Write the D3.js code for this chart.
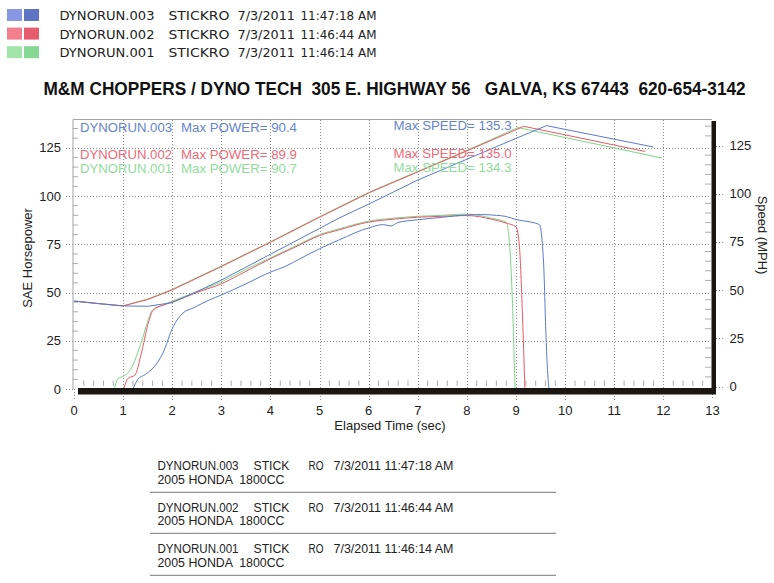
<!DOCTYPE html>
<html><head><meta charset="utf-8">
<script src="https://cdn.jsdelivr.net/npm/d3@7/dist/d3.min.js"></script>
<style>body{margin:0;background:#fff}svg{display:block}text{white-space:pre}</style>
</head><body><svg id="c" width="774" height="583"></svg>
<script>
// ---------- data ----------
const runs = ["DYNORUN.003","DYNORUN.002","DYNORUN.001"];
const runTimes = ["11:47:18 AM","11:46:44 AM","11:46:14 AM"];
const runDate = "7/3/2011";
const maxPower = ["90.4","89.9","90.7"];
const maxSpeed = ["135.3","135.0","134.3"];
const xTicks = [0,1,2,3,4,5,6,7,8,9,10,11,12,13];
const hpTicks = [0,25,50,75,100,125];
const mphTicks = [0,25,50,75,100,125];

// power (SAE HP) vs time
const pTime003 = [1.20,1.30,1.45,1.61,1.81,2.02,2.22,2.42,2.76,3.0,3.5,4.0,4.3,4.6,5.0,5.4,6.0,6.3,6.45,6.6,7.0,7.5,8.0,8.3,8.6,8.8,9.0,9.3,9.48,9.53,9.57,9.60,9.63,9.67];
const power003 = [0,5,7.5,10.9,18.6,32.4,39.4,41.9,46.2,48.7,54.5,60.6,63.5,67.5,72.7,77.3,83.5,85.2,84.5,86.3,87.7,89,90.2,90.4,90,89.4,87.8,86.5,85.1,77,60,35,15,0];
const pTime002 = [1.01,1.10,1.24,1.37,1.51,1.61,1.81,2.0,2.5,3.0,3.5,4.0,4.5,5.0,5.4,6.0,6.5,7.0,7.5,8.0,8.5,8.8,9.0,9.07,9.13,9.18];
const power002 = [0,5.5,7.2,18.4,33.9,40.8,43.4,45,50,54.5,61,67.5,73.5,79.5,82.5,86.5,88,89,89.5,89.9,88,86,84,73.5,39,0];
const pTime001 = [0.82,0.90,1.0,1.17,1.30,1.41,1.50,1.60,1.80,2.0,2.5,3.0,3.5,4.0,4.5,5.0,5.4,6.0,6.5,7.0,7.5,8.0,8.5,8.8,8.85,8.91,8.98];
const power001 = [0,5.5,6.5,10.9,19,27.3,35,41,43.5,45.5,50.5,55.5,62,68,74,80,83,87,88.5,89.5,90,90.7,88.5,86.5,80,56,0];

// speed (MPH) vs time
const sTime003 = [0,0.5,1.0,1.5,2.0,2.5,3.0,4.0,5.0,5.4,6.0,7.0,8.0,9.0,9.62,11.8];
const speed003 = [44.3,43.0,41.8,41.6,43.5,49.2,55.2,68.6,82.0,87.4,94.6,107.1,117.9,128.7,135.3,124.2];
const sTime002 = [0,0.5,1.0,1.5,2.0,3.0,4.0,5.0,6.0,7.0,8.0,9.0,9.15,11.63];
const speed002 = [44.3,43.0,41.8,45.1,50.1,62.2,74.8,87.8,100.4,111.3,122.2,133.2,135.0,121.9];
const sTime001 = [0,0.5,1.0,1.5,2.0,3.0,4.0,5.0,6.0,7.0,8.0,9.04,11.97];
const speed001 = [44.3,43.0,41.8,45.4,50.4,62.5,75.1,88.1,100.7,111.6,122.5,134.3,118.5];

const vehicle = "2005 HONDA  1800CC";
const title = "M&M CHOPPERS / DYNO TECH  305 E. HIGHWAY 56   GALVA, KS 67443  620-654-3142";

// ---------- styles ----------
const lineCol = ["#5a7bcc","#e85866","#7cd688"];
const textCol = ["#6484cc","#ec6a78","#92dc9c"];
const sqCol = [["#8797e4","#5f74c4"],["#f27e8e","#e45c6e"],["#a2e4aa","#86d892"]];

const svg = d3.select("#c");
const font = "'Liberation Sans', Arial, sans-serif";

const x = d3.scaleLinear().domain([0,13]).range([74,712.5]);
const yL = d3.scaleLinear().domain([0,125]).range([389,147.8]);
const yR = d3.scaleLinear().domain([0,125]).range([386.5,145.5]);
const plotTop = 119.5;

// ---------- top legend ----------
runs.forEach((r,i)=>{
  const yy = 9 + i*18.6;
  svg.append("rect").attr("x",7).attr("y",yy).attr("width",15).attr("height",12).attr("fill",sqCol[i][0]);
  svg.append("rect").attr("x",24).attr("y",yy).attr("width",15).attr("height",12).attr("fill",sqCol[i][1]);
  const g = svg.append("g").attr("font-family","'DejaVu Sans', sans-serif").attr("font-size",12.5).attr("fill","#222");
  const by = yy + 11;
  g.append("text").attr("x",59.5).attr("y",by).attr("textLength",95).attr("lengthAdjust","spacingAndGlyphs").text(r);
  g.append("text").attr("x",168.5).attr("y",by).attr("textLength",61).attr("lengthAdjust","spacingAndGlyphs").text("STICKRO");
  g.append("text").attr("x",237.5).attr("y",by).attr("textLength",57.5).attr("lengthAdjust","spacingAndGlyphs").text(runDate);
  g.append("text").attr("x",300.5).attr("y",by).attr("textLength",76).attr("lengthAdjust","spacingAndGlyphs").text(runTimes[i]);
});

// ---------- title (bold, horizontally condensed to the reference width) ----------
const tt = svg.append("text").attr("font-family",font).attr("font-weight","bold")
  .attr("font-size",19).attr("fill","#111").text(title);
const natW = tt.node().getComputedTextLength();
tt.attr("transform",`translate(43.5,95) scale(${703/natW},1)`);

// ---------- grid ----------
const grid = svg.append("g").attr("stroke","#8c8c8c").attr("stroke-width",1).attr("stroke-dasharray","1,2").attr("shape-rendering","crispEdges");
xTicks.slice(1,13).forEach(t=>{
  const px = Math.round(x(t))+0.5;
  grid.append("line").attr("x1",px).attr("x2",px).attr("y1",plotTop).attr("y2",400);
});
hpTicks.slice(1).forEach(v=>{
  const py = Math.round(yL(v))+0.5;
  grid.append("line").attr("x1",66).attr("x2",711).attr("y1",py).attr("y2",py);
});
mphTicks.forEach(v=>{
  const py = Math.round(yR(v))+0.5;
  grid.append("line").attr("x1",716).attr("x2",724).attr("y1",py).attr("y2",py);
});
grid.append("line").attr("x1",66).attr("x2",73).attr("y1",389.5).attr("y2",389.5);
grid.append("line").attr("x1",74.5).attr("x2",74.5).attr("y1",389).attr("y2",400);
grid.append("line").attr("x1",712.5).attr("x2",712.5).attr("y1",394).attr("y2",400);

// minor ticks
const minor = svg.append("g").attr("stroke","#999").attr("stroke-width",0.8);
d3.range(0,13.01,0.2).forEach(t=>{
  if (Math.abs(t-Math.round(t))<1e-6) return;
  minor.append("line").attr("x1",x(t)).attr("x2",x(t)).attr("y1",380.5).attr("y2",386);
});
d3.range(5,140,5).forEach(v=>{
  if (v%25===0) return;
  if (yL(v) > plotTop) minor.append("line").attr("x1",73).attr("x2",78).attr("y1",yL(v)).attr("y2",yL(v));
  if (yR(v) > plotTop) minor.append("line").attr("x1",705).attr("x2",711).attr("y1",yR(v)).attr("y2",yR(v));
});

// frame
svg.append("line").attr("x1",73).attr("x2",712).attr("y1",plotTop).attr("y2",plotTop).attr("stroke","#999").attr("stroke-width",0.9);
svg.append("line").attr("x1",73).attr("x2",73).attr("y1",plotTop).attr("y2",389).attr("stroke","#999").attr("stroke-width",0.9);

// ---------- curves ----------
const lineHP = d3.line().x(d=>x(d[0])).y(d=>yL(d[1])).curve(d3.curveMonotoneX);
const lineMPH = d3.line().x(d=>x(d[0])).y(d=>yR(d[1]));
const powerT = [pTime003,pTime002,pTime001], powerV=[power003,power002,power001];
const speedT = [sTime003,sTime002,sTime001], speedV=[speed003,speed002,speed001];
const curves = svg.append("g").attr("fill","none").attr("stroke-width",1);
[2,1,0].forEach(i=>{
  curves.append("path").attr("stroke",lineCol[i]).attr("d",lineMPH(d3.zip(speedT[i],speedV[i])));
  curves.append("path").attr("stroke",lineCol[i]).attr("d",lineHP(d3.zip(powerT[i],powerV[i])));
});

// thick borders
svg.append("rect").attr("x",78).attr("y",388).attr("width",638).attr("height",6.5).attr("fill","#1a1614");
svg.append("rect").attr("x",711.5).attr("y",121).attr("width",4.5).attr("height",273).attr("fill","#1a1614");

// ---------- annotations ----------
const ann = svg.append("g").attr("font-family",font).attr("font-size",12.5);
const annY = [131.5,159,173];
runs.forEach((r,i)=>{
  ann.append("text").attr("x",80).attr("y",annY[i]).attr("fill",textCol[i]).attr("textLength",92).attr("lengthAdjust","spacingAndGlyphs").text(r);
  ann.append("text").attr("x",181).attr("y",annY[i]).attr("fill",textCol[i]).attr("textLength",116).attr("lengthAdjust","spacingAndGlyphs").text("Max POWER= "+maxPower[i]);
  ann.append("text").attr("x",393.5).attr("y",annY[i]-1.5).attr("fill",textCol[i]).attr("textLength",118).attr("lengthAdjust","spacingAndGlyphs").text("Max SPEED= "+maxSpeed[i]);
});

// ---------- axes labels ----------
const axl = svg.append("g").attr("font-family",font).attr("font-size",13).attr("fill","#222");
hpTicks.forEach(v=>{
  axl.append("text").attr("x",61).attr("y",yL(v)+4.5).attr("text-anchor","end").text(v);
});
mphTicks.forEach(v=>{
  axl.append("text").attr("x",729.5).attr("y",yR(v)+4.5).attr("text-anchor","start").text(v);
});
xTicks.forEach(t=>{
  axl.append("text").attr("x",x(t)).attr("y",415).attr("text-anchor","middle").text(t);
});
axl.append("text").attr("x",390).attr("y",430).attr("text-anchor","middle").text("Elapsed Time (sec)");
axl.append("text").attr("transform","translate(32,258) rotate(-90)").attr("text-anchor","middle").text("SAE Horsepower");
axl.append("text").attr("transform","translate(758,235) rotate(90)").attr("text-anchor","middle").text("Speed (MPH)");

// ---------- bottom table ----------
const tb = svg.append("g").attr("font-family",font).attr("font-size",12).attr("fill","#222");
const rowY = [470,511.5,553];
const sepY = [492.3,533.3,575.3];
runs.forEach((r,i)=>{
  const yy = rowY[i];
  tb.append("text").attr("x",157.5).attr("y",yy).attr("textLength",81).attr("lengthAdjust","spacingAndGlyphs").text(r);
  tb.append("text").attr("x",253.5).attr("y",yy).attr("textLength",36).attr("lengthAdjust","spacingAndGlyphs").text("STICK");
  tb.append("text").attr("x",308.5).attr("y",yy).attr("textLength",15).attr("lengthAdjust","spacingAndGlyphs").text("RO");
  tb.append("text").attr("x",333.5).attr("y",yy).attr("textLength",120).attr("lengthAdjust","spacingAndGlyphs").text(runDate+" "+runTimes[i]);
  tb.append("text").attr("x",157.5).attr("y",yy+13.5).attr("textLength",127).attr("lengthAdjust","spacingAndGlyphs").text(vehicle);
  svg.append("line").attr("x1",150).attr("x2",556).attr("y1",sepY[i]).attr("y2",sepY[i]).attr("stroke","#777").attr("stroke-width",1);
});
</script></body></html>
